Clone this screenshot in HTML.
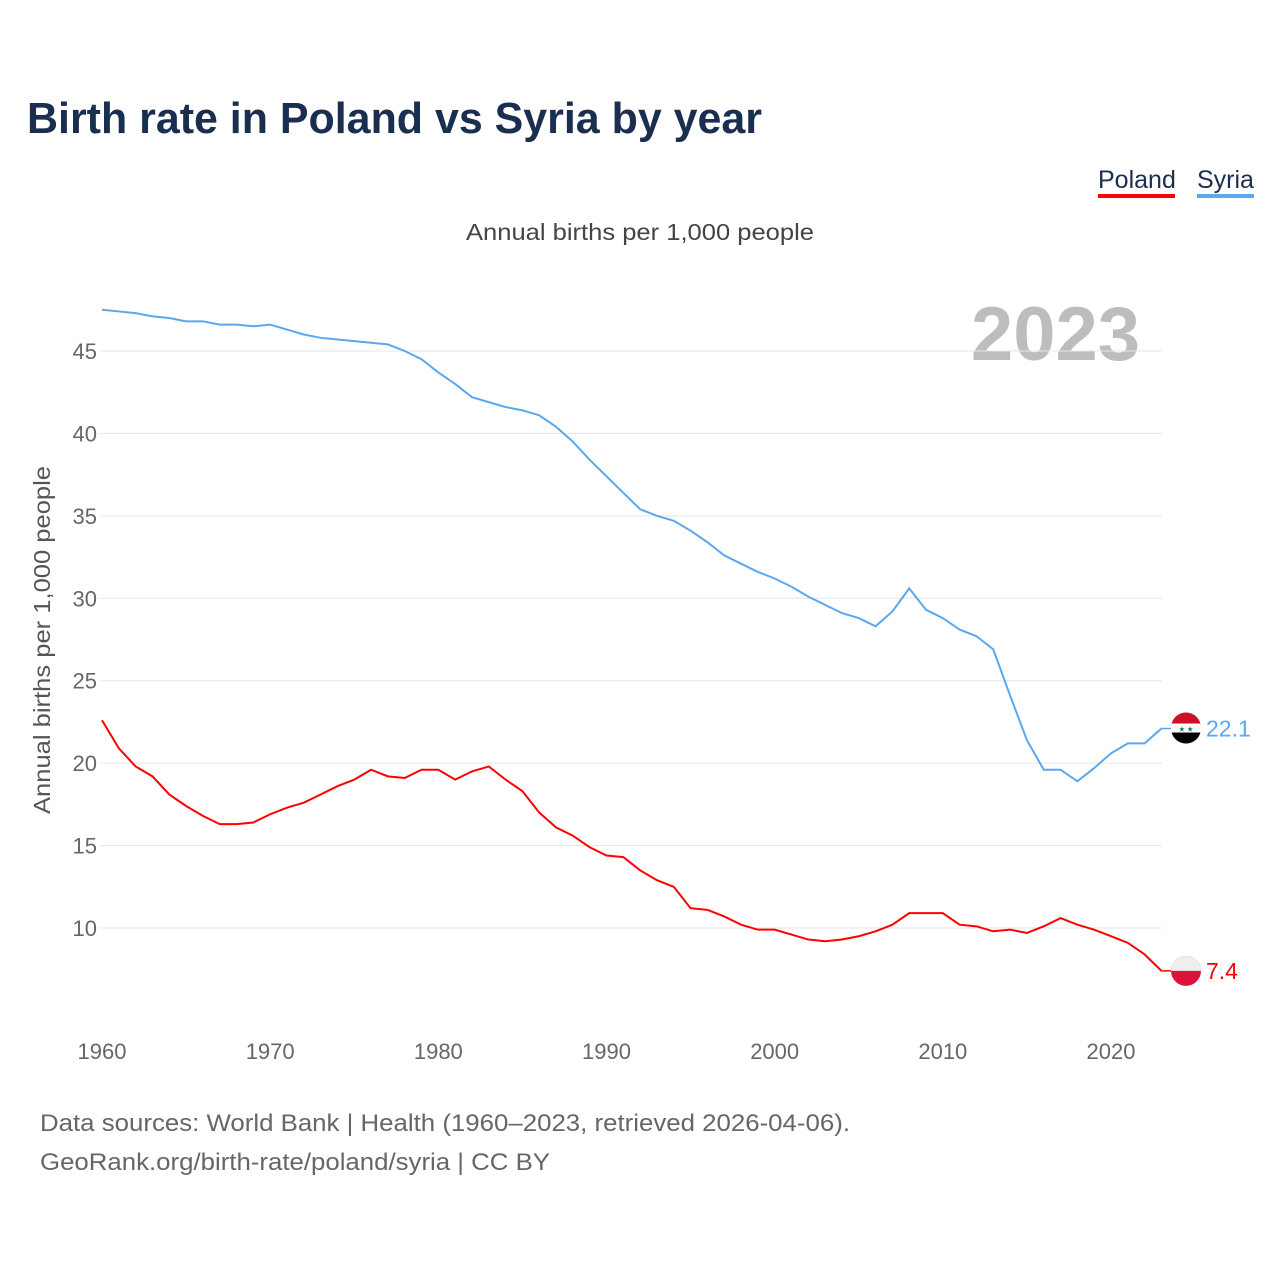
<!DOCTYPE html>
<html><head><meta charset="utf-8"><style>
body{margin:0;background:#fff;font-family:"Liberation Sans",sans-serif;}
svg{display:block}
</style></head><body>
<svg id="chart" width="1280" height="1280">
<text x="27" y="133" font-size="44" font-weight="bold" fill="#1a2e4f" textLength="735" lengthAdjust="spacingAndGlyphs">Birth rate in Poland vs Syria by year</text>
<g>
<text x="1098" y="188" font-size="25" fill="#1a2e4f">Poland</text>
<rect x="1098" y="194" width="77" height="4" fill="#ff0000"/>
<text x="1197" y="188" font-size="25" fill="#1a2e4f">Syria</text>
<rect x="1197" y="194" width="57" height="4" fill="#5ba7ee"/>
</g>
<text x="466" y="240" font-size="23" fill="#444" textLength="348" lengthAdjust="spacingAndGlyphs">Annual births per 1,000 people</text>
<text x="1140" y="360" font-size="76" font-weight="bold" fill="#bdbdbd" text-anchor="end">2023</text>
<text transform="translate(50,640) rotate(-90)" font-size="23" fill="#555" text-anchor="middle" textLength="348" lengthAdjust="spacingAndGlyphs">Annual births per 1,000 people</text>
<g id="grid"></g><g id="xt"></g><g id="lines"></g>
<text x="40" y="1131" font-size="24" fill="#666" textLength="810" lengthAdjust="spacingAndGlyphs">Data sources: World Bank | Health (1960–2023, retrieved 2026-04-06).</text>
<text x="40" y="1170" font-size="24" fill="#666" textLength="510" lengthAdjust="spacingAndGlyphs">GeoRank.org/birth-rate/poland/syria | CC BY</text>
</svg>
<script>
const years=[];for(let y=1960;y<=2023;y++)years.push(y);
const syria=[47.5,47.4,47.3,47.1,47.0,46.8,46.8,46.6,46.6,46.5,46.6,46.3,46.0,45.8,45.7,45.6,45.5,45.4,45.0,44.5,43.7,43.0,42.2,41.9,41.6,41.4,41.1,40.4,39.5,38.4,37.4,36.4,35.4,35.0,34.7,34.1,33.4,32.6,32.1,31.6,31.2,30.7,30.1,29.6,29.1,28.8,28.3,29.2,30.6,29.3,28.8,28.1,27.7,26.9,24.1,21.4,19.6,19.6,18.9,19.7,20.6,21.2,21.2,22.1];
const poland=[22.6,20.9,19.8,19.2,18.1,17.4,16.8,16.3,16.3,16.4,16.9,17.3,17.6,18.1,18.6,19.0,19.6,19.2,19.1,19.6,19.6,19.0,19.5,19.8,19.0,18.3,17.0,16.1,15.6,14.9,14.4,14.3,13.5,12.9,12.5,11.2,11.1,10.7,10.2,9.9,9.9,9.6,9.3,9.2,9.3,9.5,9.8,10.2,10.9,10.9,10.9,10.2,10.1,9.8,9.9,9.7,10.1,10.6,10.2,9.9,9.5,9.1,8.4,7.4];
const yTicks=[10,15,20,25,30,35,40,45];
const xTicks=[1960,1970,1980,1990,2000,2010,2020];
const X=y=>102+(y-1960)*(1111-102)/60;
const Y=v=>928-(v-10)*(577/35);
const NS="http://www.w3.org/2000/svg";
function mk(t,a,p){const e=document.createElementNS(NS,t);for(const k in a)e.setAttribute(k,a[k]);p.appendChild(e);return e;}
const g=document.getElementById('grid');
yTicks.forEach(v=>{
 const l=mk('line',{x1:100,x2:1162,y1:Y(v),y2:Y(v),stroke:'#e6e6e6','stroke-width':1},g);
 
 
 const t=mk('text',{x:97,y:Y(v)+8,'font-size':22,fill:'#666','text-anchor':'end'},g);t.textContent=v;
 
 
});
const xt=document.getElementById('xt');
xTicks.forEach(v=>{
 const t=mk('text',{x:X(v),y:1059,'font-size':22,fill:'#666','text-anchor':'middle'},xt);t.textContent=v;
 
 
});
const L=document.getElementById('lines');
function series(d,c,name,lab){
 const p=mk('polyline',{points:d.map((v,i)=>X(years[i])+','+Y(v)).join(' '),fill:'none',stroke:c,'stroke-width':2},L);
 
 
 const last=d[d.length-1],ly=Y(last),lx=X(years[years.length-1]);
 mk('line',{x1:lx,x2:1172,y1:ly,y2:ly,stroke:c,'stroke-width':1.5},L);
 const fl=mk('g',{},L);
 
 
 if(name==='syria'){
  mk('circle',{cx:1186,cy:ly,r:15,fill:'#000'},fl);
  mk('path',{d:`M1171 ${ly-1} A15 15 0 0 1 1201 ${ly-1}Z`,fill:'#ce1126'},fl);
  mk('rect',{x:1171,y:ly-5,width:30,height:9,fill:'#fff'},fl);
  const s=mk('text',{x:1186,y:ly+3,'font-size':7,fill:'#007a3d','text-anchor':'middle'},fl);s.textContent='★ ★';
 }else{
  mk('circle',{cx:1186,cy:ly,r:15,fill:'#dc143c'},fl);
  mk('path',{d:`M1171 ${ly} A15 15 0 0 1 1201 ${ly}Z`,fill:'#eee'},fl);
 }
 const t=mk('text',{x:1206,y:ly+8,'font-size':23,fill:c},L);t.textContent=lab;
 
 
}
series(syria,'#5ba7ee','syria',syria[syria.length-1].toFixed(1));
series(poland,'#ff0000','poland',poland[poland.length-1].toFixed(1));
</script>
</body></html>
